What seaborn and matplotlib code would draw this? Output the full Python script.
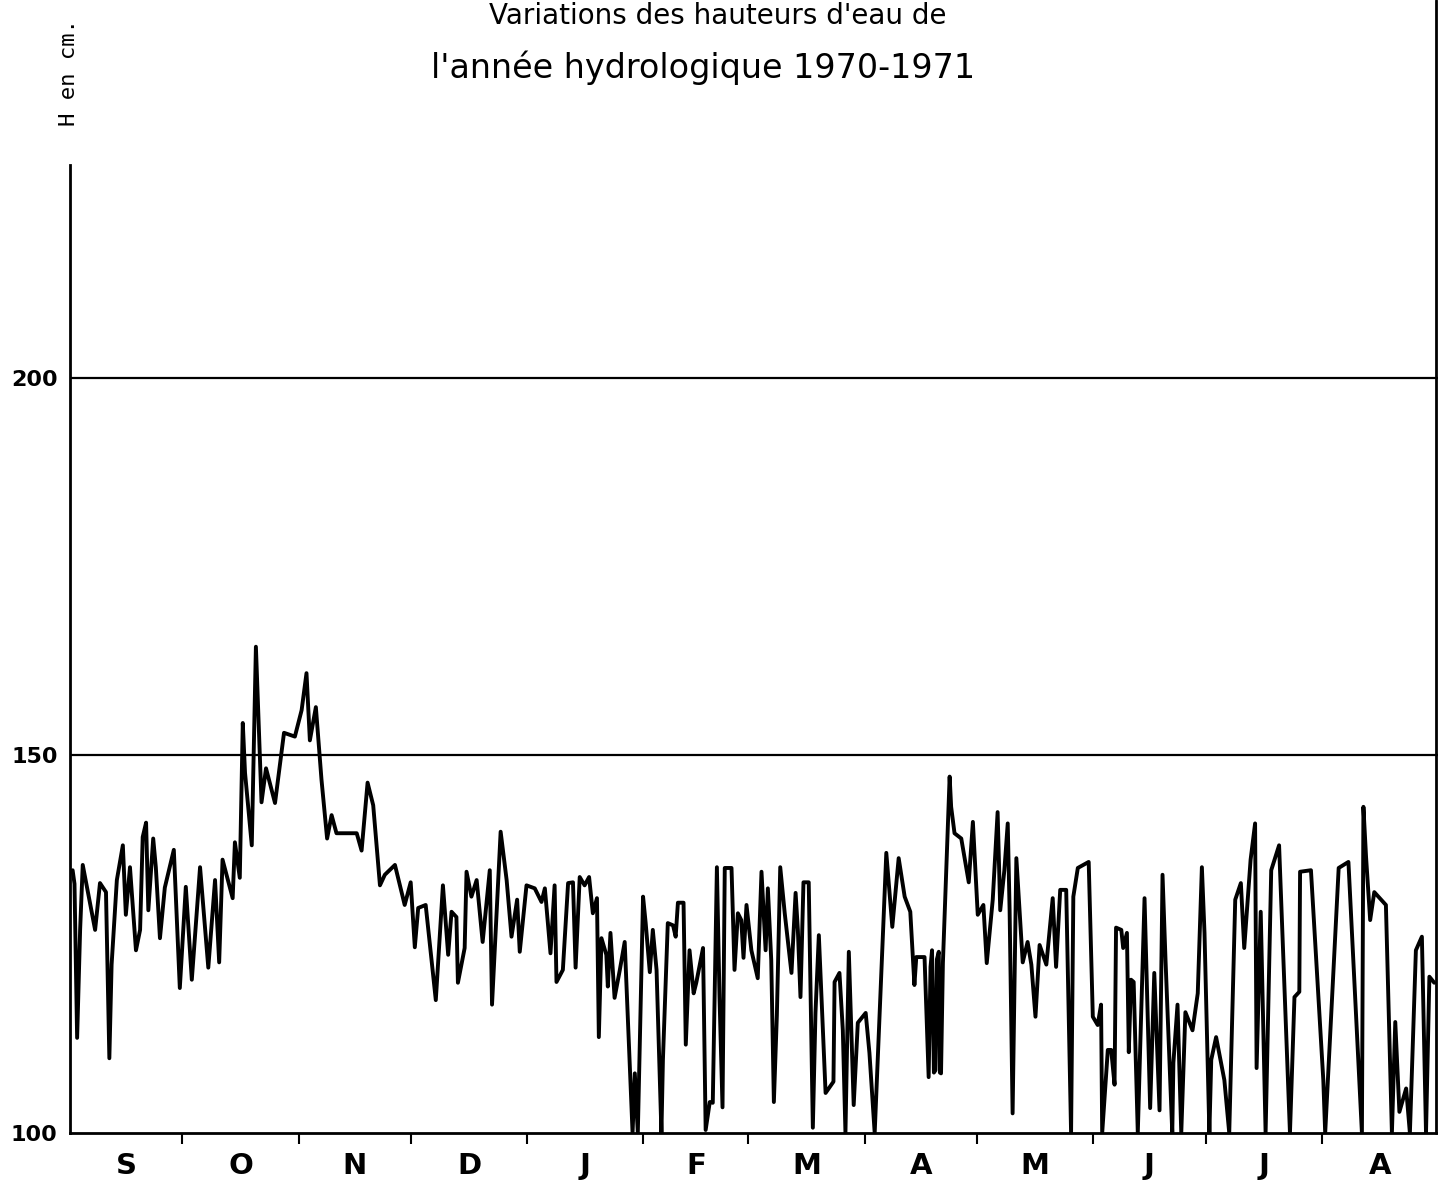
import matplotlib
matplotlib.use("Agg")
import matplotlib.pyplot as plt
import seaborn as sns
from matplotlib.lines import Line2D

# ---------------------------
# data (day of hydrological year, water height in cm)
# ---------------------------
day = [0.7, 1.2, 1.9, 2.7, 3.4, 6.7, 8.0, 9.6, 10.5, 11.1, 12.5, 14.1, 14.9, 16.0,
       17.6, 18.7, 19.4, 20.3, 20.9, 22.2, 22.9, 24.0, 25.3, 27.7, 29.3, 30.9,
       32.5, 34.7, 36.9, 38.7, 39.8, 40.7, 43.4, 44.0, 45.3, 46.1, 46.7, 48.5,
       49.6, 51.1, 52.3, 54.7, 57.1, 60.0, 61.8, 63.1, 64.0, 65.6, 67.1, 68.6,
       69.8, 71.1, 76.5, 77.8, 79.4, 80.9, 82.7, 84.0, 86.7, 89.3, 90.9, 92.0,
       92.9, 94.9, 97.6, 99.5, 100.9, 101.8, 103.1, 103.5, 105.3, 105.8, 107.1,
       108.5, 110.1, 112.0, 112.6, 114.9, 116.5, 117.8, 119.3, 120.0, 121.8,
       124.0, 125.8, 126.7, 128.2, 129.3, 129.8, 131.5, 132.9, 134.2, 134.9,
       136.0, 137.3, 138.5, 139.5, 140.6, 141.1, 141.8, 143.1, 143.5, 144.2,
       145.3, 146.7, 148.0, 150.1, 150.7, 151.5, 152.9, 153.6, 154.7, 155.5,
       156.5, 157.8, 158.2, 159.5, 160.9, 161.6, 162.2, 163.7, 164.3, 165.3,
       166.4, 167.1, 168.9, 169.6, 170.7, 171.5, 172.6, 173.3, 174.1, 174.7,
       176.5, 177.3, 178.2, 179.1, 179.7, 180.5, 181.8, 183.5, 184.5, 185.6,
       186.2, 187.1, 187.8, 188.6, 189.5, 190.7, 192.5, 193.6, 194.2, 194.9,
       195.7, 197.1, 198.2, 198.9, 199.8, 201.6, 203.7, 204.0, 205.3, 206.2,
       206.9, 207.8, 209.1, 210.2, 212.3, 213.3, 214.7, 217.8, 219.4, 221.1,
       222.7, 224.2, 225.3, 225.8, 228.0, 229.1, 229.6, 230.0, 230.5, 230.9,
       231.3, 231.8, 232.1, 232.4, 232.9, 234.7, 235.1, 236.0, 237.8, 239.8,
       240.9, 242.2, 243.7, 244.6, 246.2, 247.5, 248.2, 249.3, 250.2, 250.7,
       251.5, 252.5, 254.2, 255.5, 256.5, 257.6, 258.7, 260.5, 262.2, 263.1,
       264.2, 265.8, 267.1, 267.7, 268.9, 271.8, 272.9, 274.2, 275.1, 275.4,
       276.9, 277.8, 278.7, 279.1, 280.5, 281.0, 282.0, 282.5, 283.1, 283.8,
       284.9, 285.5, 286.7, 288.2, 289.3, 290.7, 291.5, 292.3, 294.1, 294.4,
       295.5, 296.5, 297.6, 299.5, 300.9, 302.0, 302.7, 304.0, 304.5, 305.8,
       308.0, 309.3, 310.9, 312.4, 313.3, 315.0, 316.2, 316.6, 317.7, 319.0,
       320.5, 322.6, 325.5, 326.7, 328.0, 328.2, 331.1, 334.4, 334.9, 338.5,
       341.1, 344.7, 345.1, 345.8, 346.9, 348.0, 351.1, 352.7, 353.6, 354.7,
       356.5, 357.5, 359.1, 360.7, 361.8, 362.7, 364.0]

height = [134.8, 133.0, 112.6, 126.9, 135.5, 126.9, 133.1, 131.9, 109.9, 122.3, 133.5,
          138.1, 128.9, 135.2, 124.2, 126.9, 139.2, 141.1, 129.5, 139.0, 135.2, 125.8,
          132.5, 137.5, 119.2, 132.6, 120.3, 135.2, 121.9, 133.5, 122.6, 136.2, 131.1,
          138.5, 133.8, 154.3, 147.7, 138.1, 164.4, 143.8, 148.3, 143.7, 153.0, 152.5,
          156.0, 160.9, 152.0, 156.4, 146.8, 139.0, 142.1, 139.7, 139.7, 137.4, 146.4,
          143.4, 132.8, 134.2, 135.5, 130.2, 133.2, 124.6, 129.8, 130.2, 117.6, 132.8,
          123.6, 129.3, 128.6, 119.9, 124.5, 134.6, 131.3, 133.5, 125.3, 134.8, 117.0,
          139.9, 133.5, 126.0, 130.9, 124.0, 132.8, 132.4, 130.6, 132.4, 123.8, 132.8,
          120.0, 121.6, 133.1, 133.2, 121.9, 133.9, 132.8, 133.9, 129.1, 131.1, 112.7,
          125.8, 123.6, 119.4, 126.5, 117.9, 121.6, 125.3, 100.0, 107.9, 100.0, 131.3,
          127.8, 121.3, 126.9, 121.6, 100.0, 109.7, 127.8, 127.5, 126.0, 130.5, 130.5,
          111.7, 124.2, 118.5, 119.9, 124.5, 100.4, 104.1, 104.0, 135.2, 118.0, 103.4,
          135.1, 135.1, 121.6, 129.1, 128.2, 123.2, 130.2, 124.2, 120.5, 134.6, 124.2,
          132.4, 122.9, 104.1, 115.6, 135.2, 129.1, 121.2, 131.8, 126.9, 118.0, 133.2,
          133.2, 100.7, 115.9, 126.2, 105.3, 106.8, 120.0, 121.2, 113.6, 100.0, 124.0,
          103.7, 114.6, 115.9, 110.6, 100.0, 137.1, 127.3, 136.4, 131.3, 129.3, 119.6,
          123.3, 123.3, 107.4, 122.0, 124.2, 108.0, 108.3, 123.0, 124.0, 108.0, 107.9,
          122.5, 147.2, 143.2, 139.7, 139.0, 133.2, 141.2, 128.9, 130.2, 122.5, 130.9,
          142.5, 129.5, 134.8, 141.0, 129.5, 102.6, 136.4, 122.6, 125.3, 122.3, 115.4,
          124.9, 122.3, 131.1, 122.0, 132.2, 132.2, 100.0, 131.3, 135.1, 135.9, 115.4,
          114.3, 117.0, 100.0, 111.0, 111.0, 106.4, 127.2, 126.9, 124.5, 126.5, 110.7,
          120.3, 120.0, 100.0, 110.6, 131.1, 103.3, 121.2, 103.0, 134.2, 122.9, 100.0,
          109.3, 117.0, 100.0, 116.0, 113.6, 118.5, 135.2, 126.5, 100.0, 109.7, 112.7,
          107.0, 100.0, 130.9, 133.1, 124.5, 136.2, 141.0, 108.6, 129.3, 100.0, 134.8,
          138.1, 100.0, 118.0, 118.7, 134.6, 134.8, 107.0, 100.0, 135.1, 135.9, 100.0,
          143.2, 136.6, 128.2, 131.9, 130.2, 100.0, 114.7, 102.8, 105.9, 100.0, 124.2,
          126.0, 100.0, 120.7, 119.9]

month_labels = ["S", "O", "N", "D", "J", "F", "M", "A", "M", "J", "J", "A"]
month_days = [30, 31, 30, 31, 31, 28, 31, 30, 31, 30, 31, 31]
ref_levels = [150, 200]
ytick_values = [100, 150, 200]

# ---------------------------
# figure
# ---------------------------
sns.set_style("white")
plt.rcParams["font.family"] = ["DejaVu Sans"]
plt.rcParams["text.color"] = "black"
plt.rcParams["xtick.color"] = "black"
plt.rcParams["ytick.color"] = "black"

fig = plt.figure(figsize=(14.38, 11.85), dpi=100)
ax = fig.add_axes([70 / 1438, 52 / 1185, 1368 / 1438, (1133 - 165) / 1185])

sns.lineplot(x=day, y=height, color="black", linewidth=2.8,
             estimator=None, sort=False, ax=ax)

for lev in ref_levels:
    ax.axhline(lev, color="black", linewidth=1.6)

ax.set_xlim(0, 365)
ax.set_ylim(100, 228.2)

# month boundaries as ticks, labels centred on each month
bounds = [0]
for n in month_days:
    bounds.append(bounds[-1] + n)
mids = [(bounds[i] + bounds[i + 1]) / 2 for i in range(len(month_days))]
ax.set_xticks(bounds[1:-1])
ax.set_xticklabels([""] * (len(bounds) - 2))
ax.set_xticks(mids, minor=True)
ax.set_xticklabels(month_labels, minor=True, fontsize=21, fontweight="bold")
ax.tick_params(axis="x", which="major", direction="out", length=8, width=1.5,
               bottom=True, color="black")
ax.tick_params(axis="x", which="minor", length=0, pad=14)

ax.set_yticks(ytick_values)
ax.set_yticklabels([str(v) for v in ytick_values], fontsize=16, fontweight="bold")
ax.tick_params(axis="y", length=0, pad=9)

ax.set_xlabel("")
ax.set_ylabel("")

for side in ["top", "right"]:
    ax.spines[side].set_visible(False)
for side in ["left", "bottom"]:
    ax.spines[side].set_color("black")
    ax.spines[side].set_linewidth(2)

# right frame line runs up to the top of the sheet
fig.add_artist(Line2D([1436 / 1438, 1436 / 1438], [52 / 1185, 1.0],
                      color="black", linewidth=2))

# titles
fig.text(0.499, 0.998, "Variations des hauteurs d'eau de", ha="center",
         va="top", fontsize=20)
fig.text(0.489, 0.9426, "l'année hydrologique 1970-1971", ha="center",
         va="center", fontsize=24)
fig.text(0.048, 0.939, "H en cm.", rotation=90, ha="center", va="center",
         fontsize=16, family=["DejaVu Sans Mono"])

fig.savefig("out.png", dpi=100, facecolor="white")
